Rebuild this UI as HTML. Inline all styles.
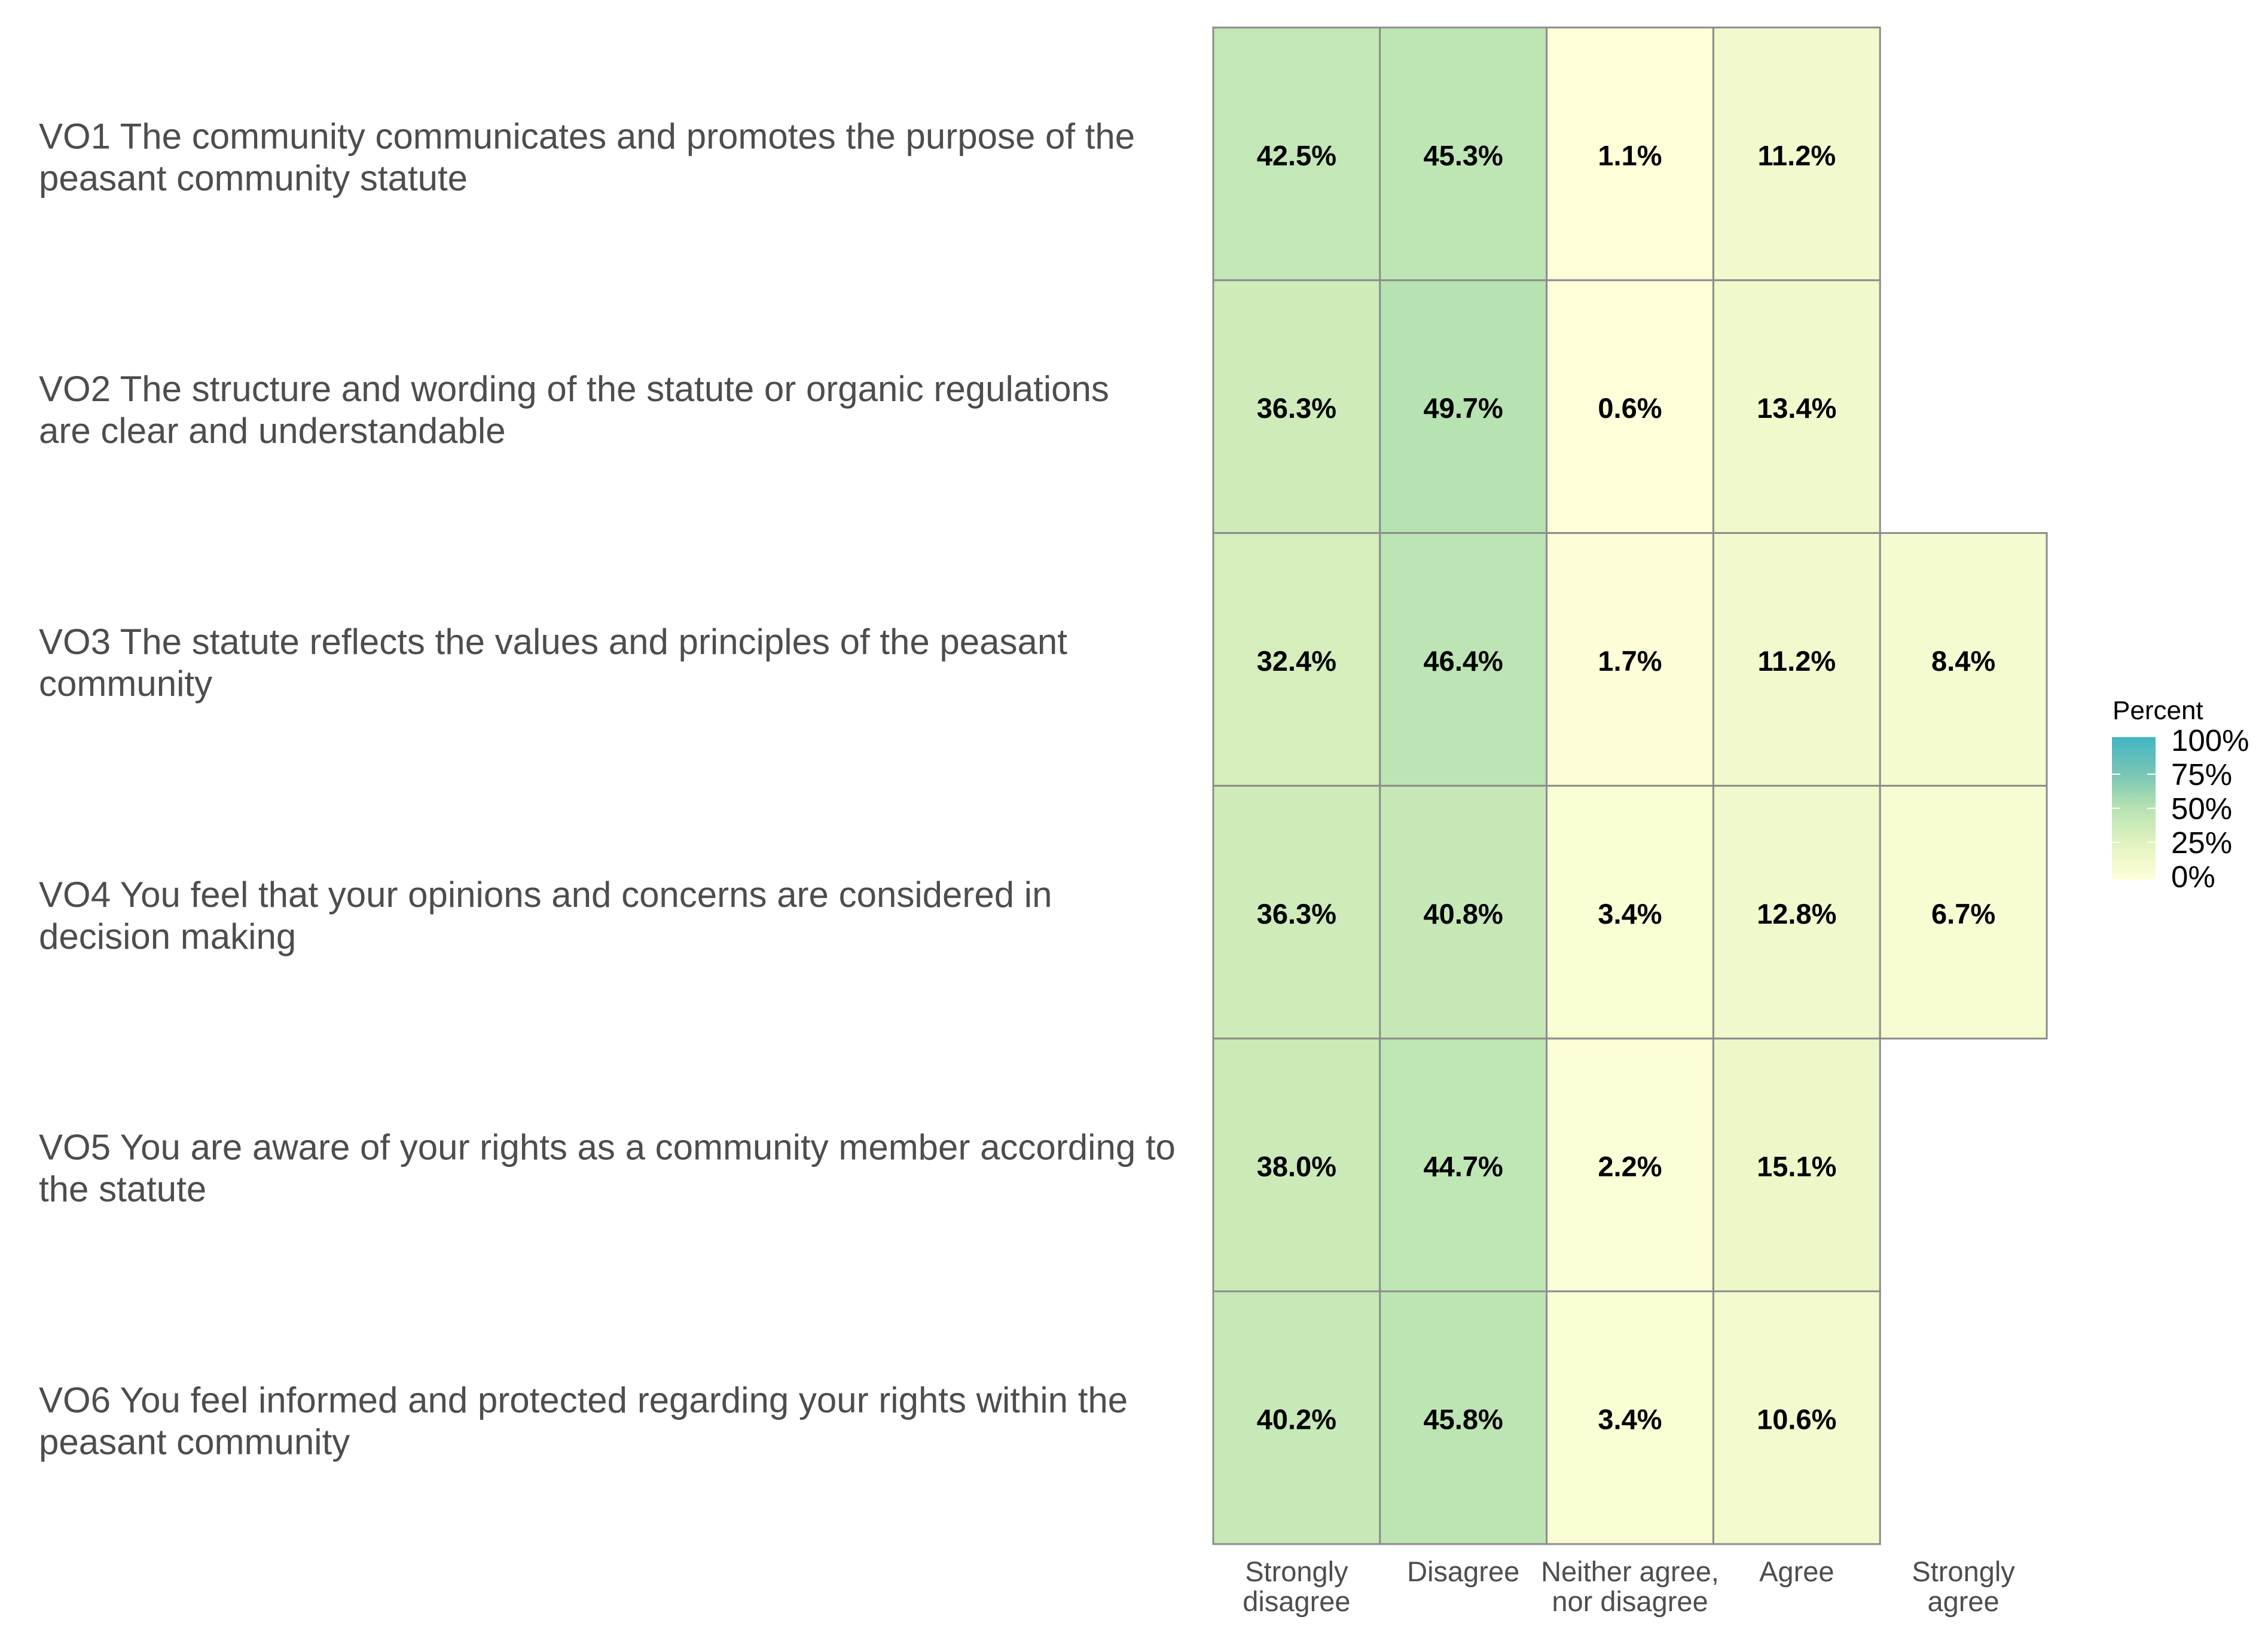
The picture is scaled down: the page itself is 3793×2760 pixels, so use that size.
<!DOCTYPE html>
<html><head><meta charset="utf-8"><style>
html,body{margin:0;padding:0;background:#fff;}
svg{display:block;}
</style></head><body>
<svg id="chart" width="3793" height="2760" viewBox="0 0 3793 2760" xmlns="http://www.w3.org/2000/svg" font-family="Liberation Sans, Arial, sans-serif">
<rect width="3793" height="2760" fill="#fff"/>
<g id="cells"></g>
<g id="rowlabels"></g>
<g id="collabels"></g>
<g id="legend"></g>
</svg>
<script>
const categories = ["Strongly disagree","Disagree","Neither agree, nor disagree","Agree","Strongly agree"];
const catLines = [["Strongly","disagree"],["Disagree"],["Neither agree,","nor disagree"],["Agree"],["Strongly","agree"]];
const items = ["VO1","VO2","VO3","VO4","VO5","VO6"];
const itemLines = [
 ["VO1 The community communicates and promotes the purpose of the","peasant community statute"],
 ["VO2 The structure and wording of the statute or organic regulations","are clear and understandable"],
 ["VO3 The statute reflects the values and principles of the peasant","community"],
 ["VO4 You feel that your opinions and concerns are considered in","decision making"],
 ["VO5 You are aware of your rights as a community member according to","the statute"],
 ["VO6 You feel informed and protected regarding your rights within the","peasant community"]
];
const vo1 = [42.5,45.3,1.1,11.2,null];
const vo2 = [36.3,49.7,0.6,13.4,null];
const vo3 = [32.4,46.4,1.7,11.2,8.4];
const vo4 = [36.3,40.8,3.4,12.8,6.7];
const vo5 = [38.0,44.7,2.2,15.1,null];
const vo6 = [40.2,45.8,3.4,10.6,null];
const values = [vo1,vo2,vo3,vo4,vo5,vo6];
const legendTicks = [0,25,50,75,100];

const NS="http://www.w3.org/2000/svg";
const X0=2029, CW=278.8, Y0=46, RH=422.8;
const xPos = i => X0 + i*CW;
const yPos = j => Y0 + j*RH;
const stops=[[0,[255,255,217]],[25,[226,243,191]],[50,[182,226,178]],[75,[118,197,181]],[100,[65,182,196]]];
function color(v){
  for(let k=0;k<stops.length-1;k++){
    const [a,ca]=stops[k],[b,cb]=stops[k+1];
    if(v<=b){const t=(v-a)/(b-a);return "rgb("+ca.map((c,i)=>Math.round(c+(cb[i]-c)*t)).join(",")+")";}
  }
  return "rgb(65,182,196)";
}
function mk(tag,attrs,parent){const e=document.createElementNS(NS,tag);for(const k in attrs)e.setAttribute(k,attrs[k]);parent.appendChild(e);return e;}

const cg=document.getElementById('cells');
values.forEach((row,j)=>{
  row.forEach((v,i)=>{
    if(v===null) return;
    const r=mk('rect',{x:xPos(i),y:yPos(j),width:CW,height:RH,fill:color(v),stroke:'#8c8c8c','stroke-width':3},cg);
    
    
    const t=mk('text',{x:xPos(i)+CW/2,y:yPos(j)+RH/2+19,'text-anchor':'middle','font-size':47,'font-weight':'bold',fill:'#000'},cg);
    t.textContent=v.toFixed(1)+'%';
    
    
  });
});

const rg=document.getElementById('rowlabels');
itemLines.forEach((lines,j)=>{
  const t=mk('text',{x:65,y:yPos(j)+RH/2-9,'font-size':60,fill:'#4d4d4d'},rg);
  
  
  lines.forEach((ln,k)=>{const s=mk('tspan',{x:65,dy:k?70:0},t);s.textContent=ln;});
});

const xg=document.getElementById('collabels');
catLines.forEach((lines,i)=>{
  const t=mk('text',{x:xPos(i)+CW/2,y:2645,'text-anchor':'middle','font-size':47,fill:'#4d4d4d'},xg);
  
  
  lines.forEach((ln,k)=>{const s=mk('tspan',{x:xPos(i)+CW/2,dy:k?50:0},t);s.textContent=ln;});
});

const lg=document.getElementById('legend');
const LX=3532,LW=73,LTOP=1238,LBOT=1466;
const defs=mk('defs',{},lg);
const grad=mk('linearGradient',{id:'lgrad',x1:0,y1:1,x2:0,y2:0},defs);
stops.forEach(s=>mk('stop',{offset:s[0]+'%','stop-color':color(s[0])},grad));
const bar=mk('rect',{x:LX,y:LTOP-5,width:LW,height:LBOT-LTOP+10,fill:'url(#lgrad)'},lg);


const title=mk('text',{x:3533,y:1203,'font-size':44,fill:'#000'},lg);
title.textContent='Percent';


const ly=v=>LBOT-(v/100)*(LBOT-LTOP);
legendTicks.forEach(v=>{
  const y=ly(v);
  if(v>0&&v<100){
    mk('line',{x1:LX,x2:LX+14,y1:y,y2:y,stroke:'#fff','stroke-width':2},lg);
    mk('line',{x1:LX+LW-14,x2:LX+LW,y1:y,y2:y,stroke:'#fff','stroke-width':2},lg);
  }
  const t=mk('text',{x:3631,y:y+18,'font-size':51,fill:'#000'},lg);
  t.textContent=v+'%';
  
  
});
</script>
</body></html>
